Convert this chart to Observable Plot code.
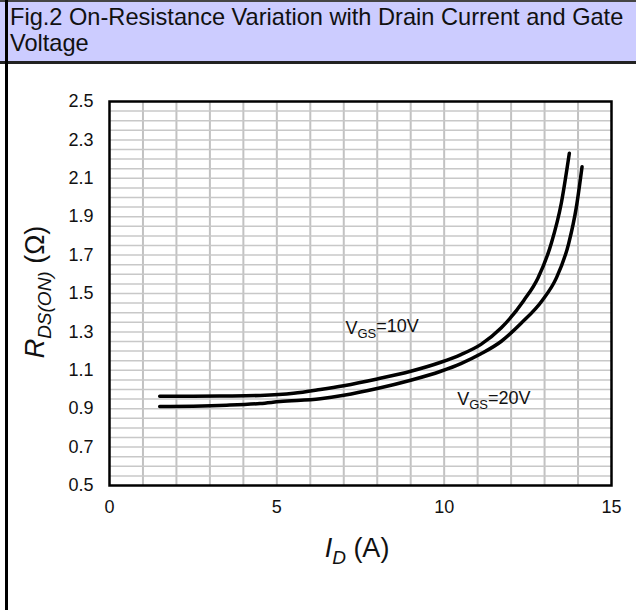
<!DOCTYPE html>
<html><head><meta charset="utf-8">
<script src="https://cdn.jsdelivr.net/npm/d3@7"></script>
<script src="https://cdn.jsdelivr.net/npm/@observablehq/plot@0.6"></script>
<style>
body{margin:0;background:#fff;font-family:"Liberation Sans",Arial,sans-serif;}
#wrap{position:relative;width:636px;height:610px;overflow:hidden;background:#fff}
#title{position:absolute;left:0;top:0;width:636px;height:59px;background:#ccccff;border-top:2px solid #444;border-bottom:3px solid #222;}
#title div{position:absolute;left:10px;top:2px;font-size:23.6px;line-height:26px;color:#111;white-space:nowrap}
#vline{position:absolute;left:5px;top:0;width:3px;height:610px;background:#000}
#chart{position:absolute;left:0;top:64px}
</style></head>
<body><div id="wrap"><div id="title"><div>Fig.2 On-Resistance Variation with Drain Current and Gate<br>Voltage</div></div><div id="chart"></div><div id="vline"></div></div>
<script>
// VGS = 10 V
const id10 = [1.5, 2.5, 3.5, 4.5, 5.5, 6.3, 7, 8, 9, 9.9, 10.5, 11.1, 11.7, 12.38, 12.8, 13.2, 13.5, 13.74];
const r10  = [0.965, 0.965, 0.966, 0.969, 0.98, 1.0, 1.02, 1.055, 1.095, 1.142, 1.182, 1.235, 1.32, 1.464, 1.58, 1.76, 1.97, 2.23];
// VGS = 20 V
const id20 = [1.5, 2.5, 3.5, 4.5, 5.1, 6.3, 7, 8, 9, 9.9, 10.5, 11.1, 11.7, 12.3, 12.93, 13.35, 13.72, 13.95, 14.12];
const r20  = [0.911, 0.913, 0.918, 0.927, 0.937, 0.952, 0.97, 1.005, 1.048, 1.095, 1.135, 1.186, 1.25, 1.345, 1.464, 1.58, 1.76, 1.95, 2.16];

const xTicks = [0, 5, 10, 15];
const yTicks = [0.5, 0.7, 0.9, 1.1, 1.3, 1.5, 1.7, 1.9, 2.1, 2.3, 2.5];
const xGrid = [1, 2, 3, 4, 5, 6, 7, 8, 9, 10, 11, 12, 13, 14];
const yGrid = [0.55, 0.6, 0.65, 0.7, 0.75, 0.8, 0.85, 0.9, 0.95, 1.0, 1.05, 1.1, 1.15, 1.2, 1.25, 1.3, 1.35, 1.4, 1.45, 1.5, 1.55, 1.6, 1.65, 1.7, 1.75, 1.8, 1.85, 1.9, 1.95, 2.0, 2.05, 2.1, 2.15, 2.2, 2.25, 2.3, 2.35, 2.4, 2.45];
const annotX = [7.05, 10.39];
const annotY = [1.32, 0.948];
const annotText = ["=10V", "=20V"];

const rows10 = id10.map((x, i) => ({x, y: r10[i]}));
const rows20 = id20.map((x, i) => ({x, y: r20[i]}));
const annots = annotX.map((x, i) => ({x, y: annotY[i], t: annotText[i]}));

const plot = Plot.plot({
  width: 636, height: 546,
  marginLeft: 109, marginRight: 25, marginTop: 37, marginBottom: 125,
  style: {fontFamily: "Liberation Sans, Arial, sans-serif", fontSize: "18px", background: "transparent", color: "#111"},
  x: {domain: [0, 15], ticks: xTicks, tickSize: 0, tickPadding: 15, label: null},
  y: {domain: [0.5, 2.5], ticks: yTicks, tickSize: 0, tickPadding: 16, label: null, tickFormat: d => d.toFixed(1)},
  marks: [
    Plot.ruleX(xGrid, {stroke: "#c2c2c2", strokeWidth: 2}),
    Plot.ruleY(yGrid, {stroke: "#c8c8c8", strokeWidth: 1.5}),
    Plot.line(rows10, {x: "x", y: "y", curve: "monotone-x", stroke: "#000", strokeWidth: 3.5}),
    Plot.line(rows20, {x: "x", y: "y", curve: "monotone-x", stroke: "#000", strokeWidth: 3.5}),
    Plot.frame({stroke: "#000", strokeWidth: 2.5}),
    Plot.text(annots, {x: "x", y: "y", text: "t", textAnchor: "start", fontSize: 18, fill: "#111"})
  ]
});
document.getElementById("chart").appendChild(plot);

const svg = d3.select(plot);
// subscripted annotations
svg.selectAll("text").filter(function() { return annotText.includes(this.textContent); }).each(function() {
  const t = d3.select(this);
  const rest = this.textContent;
  t.selectAll("*").remove();
  t.text(null);
  t.append("tspan").text("V");
  t.append("tspan").attr("font-size", 13).attr("dy", "0.3em").text("GS");
  t.append("tspan").attr("dy", "-0.3em").text(rest);
});
// y axis label
const yl = svg.append("text")
  .attr("transform", "translate(44,228) rotate(-90)")
  .attr("text-anchor", "middle")
  .attr("font-size", 27).attr("fill", "#111");
yl.append("tspan").attr("font-style", "italic").text("R");
yl.append("tspan").attr("font-style", "italic").attr("font-size", 19).attr("dy", "0.35em").text("DS(ON)");
yl.append("tspan").attr("dy", "-0.25em").text(" (Ω)");
// x axis label
const xl = svg.append("text")
  .attr("transform", "translate(357,493)")
  .attr("text-anchor", "middle")
  .attr("font-size", 27).attr("fill", "#111");
xl.append("tspan").attr("font-style", "italic").text("I");
xl.append("tspan").attr("font-style", "italic").attr("font-size", 19).attr("dy", "0.35em").text("D");
xl.append("tspan").attr("dy", "-0.25em").text(" (A)");
</script>
</body></html>
